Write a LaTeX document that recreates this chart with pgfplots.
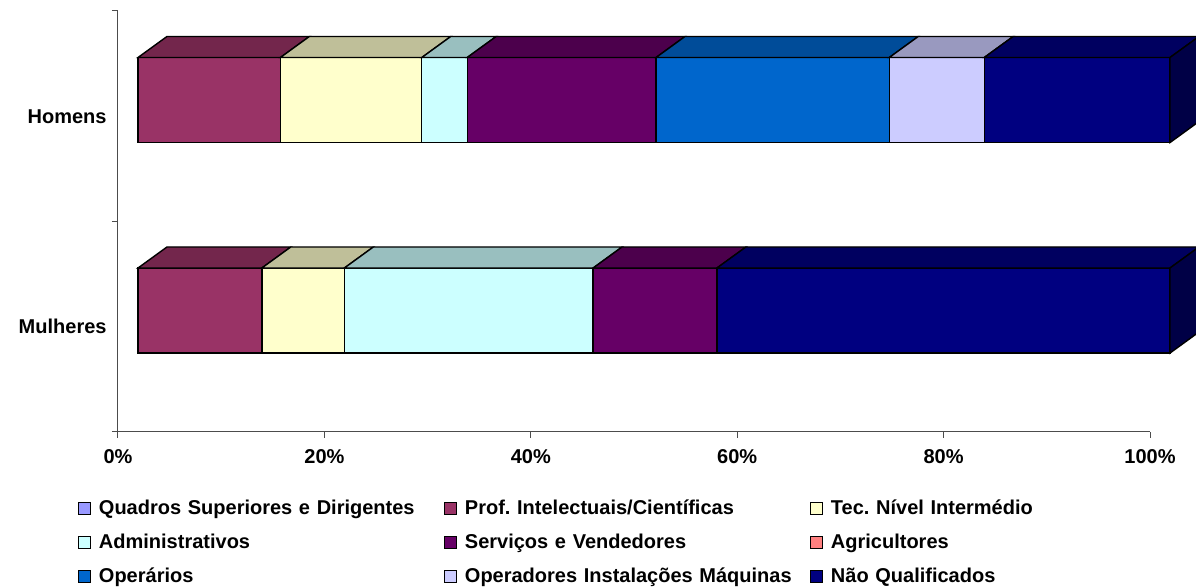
\documentclass[border=0pt]{standalone}
\usepackage{fontspec}
\setmainfont{Liberation Sans}
\usepackage{pgfplots}
\pgfplotsset{compat=1.18}
\frenchspacing

\definecolor{cQS}{HTML}{9999FF}
\definecolor{cPI}{HTML}{993366}
\definecolor{cTN}{HTML}{FFFFCC}
\definecolor{cAD}{HTML}{CCFFFF}
\definecolor{cSV}{HTML}{660066}
\definecolor{cAG}{HTML}{FF8080}
\definecolor{cOP}{HTML}{0066CC}
\definecolor{cOI}{HTML}{CCCCFF}
\definecolor{cNQ}{HTML}{000080}

\newcommand\lf{\fontsize{10}{12}\selectfont\bfseries}

% shared box size of the three overlaid axes
\pgfplotsset{
  boxsize/.style={scale only axis, width=516pt, height=210.5pt},
}

\begin{document}
\begin{tikzpicture}
% frame: axis lines, ticks and labels
\begin{axis}[
    boxsize,
    xmin=0, xmax=100, ymin=-0.5, ymax=1.5,
    axis x line*=bottom, axis y line*=left,
    axis line style={black!70, line width=0.5pt},
    xtick={0,20,40,60,80,100},
    xticklabels={0\%,20\%,40\%,60\%,80\%,100\%},
    ytick={-0.5,0.5,1.5}, yticklabels={,,},
    extra y ticks={0,1},
    extra y tick labels={Mulheres,Homens},
    extra y tick style={major tick length=0pt, yticklabel style={xshift=-2.2pt}},
    tick align=outside, major tick length=3pt,
    tick style={black!70, line width=0.5pt},
    ticklabel style={font=\lf},
    xticklabel style={yshift=-2pt},
  ]
\end{axis}

% front faces of the bars (shifted like the 3d view)
\begin{axis}[
    boxsize,
    xmin=-1.938, xmax=98.062, ymin=-0.577, ymax=1.423,
    hide axis, clip=false,
    xbar stacked, bar width=0.404,
    every axis plot post/.append style={
      draw=black, line width=0.7pt,
      legend image code/.code={\draw[##1, draw=black, line width=0.5pt] (0pt,-3pt) rectangle (6pt,3pt);},
    },
    legend columns=3,
    legend cell align=left,
    legend style={
      draw=none, fill=none,
      at={(-0.0388,-0.158)}, anchor=north west,
      inner sep=0pt, outer sep=0pt,
      column sep=4pt, row sep=7pt,
      nodes={inner sep=0pt, text height=8pt, text depth=2pt,
             text width=168.5pt, anchor=west, font=\lf},
    },
  ]
  % (value, category)  1 = Homens, 0 = Mulheres
  \addplot[fill=cQS] coordinates {(0,1) (0,0)};
  \addlegendentry{Quadros Superiores e Dirigentes}
  \addplot[fill=cPI] coordinates {(13.8,1) (12.0,0)};
  \addlegendentry{Prof. Intelectuais/Científicas}
  \addplot[fill=cTN] coordinates {(13.7,1) (8.0,0)};
  \addlegendentry{Tec. Nível Intermédio}
  \addplot[fill=cAD] coordinates {(4.4,1) (24.1,0)};
  \addlegendentry{Administrativos}
  \addplot[fill=cSV] coordinates {(18.3,1) (12.0,0)};
  \addlegendentry{Serviços e Vendedores}
  \addplot[fill=cAG] coordinates {(0,1) (0,0)};
  \addlegendentry{Agricultores}
  \addplot[fill=cOP] coordinates {(22.6,1) (0,0)};
  \addlegendentry{Operários}
  \addplot[fill=cOI] coordinates {(9.2,1) (0,0)};
  \addlegendentry{Operadores Instalações Máquinas}
  \addplot[fill=cNQ] coordinates {(18.0,1) (43.9,0)};
  \addlegendentry{Não Qualificados}
\end{axis}

% top and side faces of the bars
\begin{axis}[
    boxsize,
    xmin=-1.938, xmax=98.062, ymin=-0.577, ymax=1.423,
    hide axis, clip=false,
    every axis plot/.append style={draw=black, line width=0.7pt, mark=none},
  ]
  % Homens
  \addplot[fill=cPI!75!black] coordinates {(0,1.202) (13.8,1.202) (16.61,1.302) (2.81,1.302)} -- cycle;
  \addplot[fill=cTN!75!black] coordinates {(13.8,1.202) (27.5,1.202) (30.31,1.302) (16.61,1.302)} -- cycle;
  \addplot[fill=cAD!75!black] coordinates {(27.5,1.202) (31.9,1.202) (34.71,1.302) (30.31,1.302)} -- cycle;
  \addplot[fill=cSV!75!black] coordinates {(31.9,1.202) (50.2,1.202) (53.01,1.302) (34.71,1.302)} -- cycle;
  \addplot[fill=cOP!75!black] coordinates {(50.2,1.202) (72.8,1.202) (75.61,1.302) (53.01,1.302)} -- cycle;
  \addplot[fill=cOI!75!black] coordinates {(72.8,1.202) (82.0,1.202) (84.81,1.302) (75.61,1.302)} -- cycle;
  \addplot[fill=cNQ!75!black] coordinates {(82.0,1.202) (100,1.202) (102.81,1.302) (84.81,1.302)} -- cycle;
  \addplot[fill=cNQ!55!black] coordinates {(100,0.798) (100,1.202) (102.81,1.302) (102.81,0.898)} -- cycle;
  % Mulheres
  \addplot[fill=cPI!75!black] coordinates {(0,0.202) (12.0,0.202) (14.81,0.302) (2.81,0.302)} -- cycle;
  \addplot[fill=cTN!75!black] coordinates {(12.0,0.202) (20.0,0.202) (22.81,0.302) (14.81,0.302)} -- cycle;
  \addplot[fill=cAD!75!black] coordinates {(20.0,0.202) (44.1,0.202) (46.91,0.302) (22.81,0.302)} -- cycle;
  \addplot[fill=cSV!75!black] coordinates {(44.1,0.202) (56.1,0.202) (58.91,0.302) (46.91,0.302)} -- cycle;
  \addplot[fill=cNQ!75!black] coordinates {(56.1,0.202) (100,0.202) (102.81,0.302) (58.91,0.302)} -- cycle;
  \addplot[fill=cNQ!55!black] coordinates {(100,-0.202) (100,0.202) (102.81,0.302) (102.81,-0.102)} -- cycle;
\end{axis}

\pgfresetboundingbox
\useasboundingbox (-59pt,-77.5pt) rectangle (539pt,216pt);
\end{tikzpicture}
\end{document}
